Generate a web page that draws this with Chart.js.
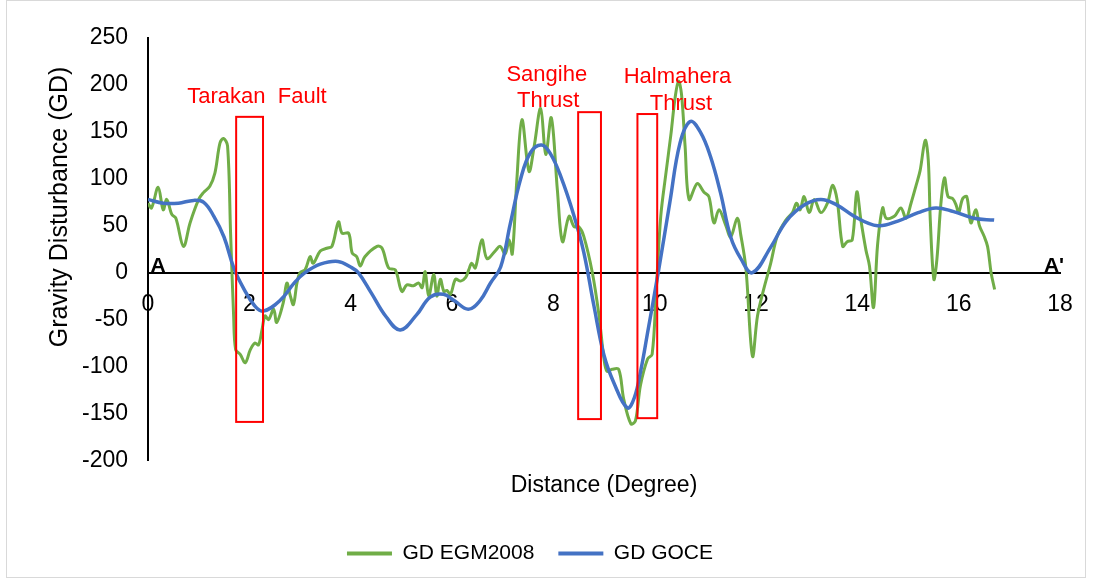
<!DOCTYPE html>
<html>
<head>
<meta charset="utf-8">
<title>Gravity Disturbance profile A-A'</title>
<script src="https://cdn.jsdelivr.net/npm/chart.js@4.4.0/dist/chart.umd.min.js"></script>
<style>
  html, body { margin: 0; padding: 0; background: #fff; }
</style>
</head>
<body>
<canvas id="gdChart" width="1094" height="584"></canvas>
<script>
// profile A - A', distance in degrees, GD values
const egmDist = [0.00, 0.07, 0.20, 0.30, 0.37, 0.47, 0.55, 0.70, 0.83, 1.00, 1.09, 1.22, 1.32, 1.42, 1.49, 1.57,
  1.63, 1.69, 1.73, 1.82, 1.92, 2.02, 2.11, 2.18, 2.25, 2.31, 2.38, 2.48, 2.54, 2.67, 2.74, 2.81, 2.87, 2.94,
  3.00, 3.10, 3.20, 3.26, 3.40, 3.53, 3.63, 3.76, 3.83, 3.96, 4.03, 4.12, 4.19, 4.28, 4.52, 4.62, 4.75, 4.88,
  5.01, 5.11, 5.24, 5.34, 5.41, 5.47, 5.54, 5.64, 5.70, 5.77, 5.84, 5.90, 5.97, 6.07, 6.17, 6.27, 6.33, 6.39,
  6.46, 6.59, 6.69, 6.85, 6.95, 7.05, 7.13, 7.19, 7.28, 7.38, 7.52, 7.62, 7.75, 7.85, 7.96, 8.08, 8.18, 8.31,
  8.41, 8.50, 8.60, 8.77, 8.90, 9.00, 9.06, 9.16, 9.29, 9.39, 9.53, 9.62, 9.72, 9.86, 9.95, 10.03, 10.12, 10.22,
  10.32, 10.40, 10.47, 10.53, 10.60, 10.68, 10.84, 10.97, 11.07, 11.17, 11.27, 11.40, 11.50, 11.63, 11.70, 11.80,
  11.93, 12.03, 12.15, 12.29, 12.42, 12.59, 12.72, 12.80, 12.87, 12.95, 13.05, 13.15, 13.28, 13.41, 13.51, 13.60,
  13.71, 13.80, 13.90, 13.99, 14.07, 14.17, 14.24, 14.32, 14.40, 14.50, 14.57, 14.73, 14.86, 14.96, 15.06, 15.16,
  15.24, 15.34, 15.40, 15.44, 15.51, 15.57, 15.65, 15.72, 15.79, 15.88, 15.95, 16.00, 16.08, 16.16, 16.24, 16.34,
  16.41, 16.50, 16.57, 16.64, 16.71];
const egmGD = [74, 69, 91, 67, 78, 62, 58, 28, 53, 78, 85, 92, 106, 138, 143, 135,
  42, -46, -82, -87, -96, -82, -75, -77, -61, -46, -50, -39, -53, -32, -11, -25, -34, -11,
  0, 3, 17, 10, 23, 26, 28, 54, 42, 42, 21, 17, 7, 17, 28, 26, 5, 3,
  -20, -13, -14, -11, -16, 1, -25, -2, -25, -7, -20, -19, -23, -7, -9, -5, 3, 10,
  5, 35, 15, 23, 28, 20, 35, 20, 99, 163, 108, 134, 175, 126, 165, 88, 33, 60,
  49, 49, 39, 0, -45, -92, -105, -103, -103, -135, -161, -158, -120, -92, -87, -20, 60, 105,
  147, 185, 204, 190, 135, 78, 95, 86, 81, 53, 67, 51, 38, 58, 40, 5,
  -89, -46, -18, 10, 39, 56, 64, 74, 67, 81, 64, 78, 64, 74, 93, 78,
  28, 33, 35, 86, 56, 24, 7, -37, 30, 69, 58, 60, 69, 58, 74, 93,
  109, 141, 120, 56, -7, 14, 74, 101, 81, 79, 72, 64, 79, 81, 53, 67,
  50, 39, 28, 0, -18];

const goceDist = [0, 0.3, 0.6, 0.9, 1.1, 1.3, 1.5, 1.7, 1.9, 2.1, 2.27, 2.6, 2.9, 3.1, 3.4, 3.75, 4.0, 4.15,
  4.4, 4.7, 4.98, 5.3, 5.57, 5.83, 6.05, 6.32, 6.55, 6.76, 6.96, 7.15, 7.35, 7.55, 7.77, 7.95, 8.15, 8.4,
  8.6, 8.8, 9.0, 9.2, 9.46, 9.6, 9.73, 9.86, 10.07, 10.3, 10.5, 10.7, 10.9, 11.1, 11.3, 11.5, 11.7, 11.93,
  12.3, 12.6, 12.95, 13.28, 13.6, 13.94, 14.4, 14.8, 15.2, 15.55, 15.9, 16.3, 16.7];
const goceGD = [78, 74, 74, 77, 75, 60, 38, 4, -18, -35, -41, -30, -10, 0, 9, 12, 6, 0,
  -21, -47, -61, -45, -26, -23, -30, -39, -30, -11, 6, 52, 99, 128, 136, 126, 102, 62,
  22, -35, -88, -118, -144, -133, -103, -64, 0, 75, 138, 161, 150, 124, 85, 38, 15, 0,
  28, 55, 72, 78, 72, 60, 50, 55, 64, 69, 65, 58, 56];

// fault zones: degree range and GD range of the red frames
const zoneNames = [['Tarakan  Fault'], ['Sangihe', 'Thrust'], ['Halmahera', 'Thrust']];
const zoneFrom = [1.74, 8.49, 9.66];
const zoneTo = [2.27, 8.94, 10.05];
const zoneTop = [166, 171, 169];
const zoneBottom = [-159, -156, -155];

const FONT = '"Liberation Sans", Arial, sans-serif';
// where the zone names sit, in data units (centre of each text line)
const zoneLabelAt = [
  [[2.15, 187]],
  [[7.87, 211], [7.9, 183]],
  [[10.45, 208], [10.52, 180]],
];

const frame = {
  id: 'frame',
  beforeDraw(chart) {
    const { ctx } = chart;
    ctx.save();
    ctx.fillStyle = '#fff';
    ctx.fillRect(0, 0, chart.width, chart.height);
    ctx.strokeStyle = '#d9d9d9';
    ctx.lineWidth = 1;
    ctx.strokeRect(6.5, 0.5, 1079, 577);
    ctx.restore();
  },
  afterDraw(chart) {
    // y axis title, Excel puts it a bit above the axis middle
    const { ctx } = chart;
    ctx.save();
    ctx.translate(60, 207);
    ctx.rotate(-Math.PI / 2);
    ctx.font = `25px ${FONT}`;
    ctx.fillStyle = '#000';
    ctx.textAlign = 'center';
    ctx.textBaseline = 'middle';
    ctx.fillText('Gravity Disturbance (GD)', 0, 0);
    ctx.restore();
  },
};

const faultZones = {
  id: 'faultZones',
  afterDatasetsDraw(chart) {
    const { ctx, scales: { x, y } } = chart;
    ctx.save();
    ctx.strokeStyle = '#ff0000';
    ctx.lineWidth = 2;
    zoneFrom.forEach((from, i) => {
      const l = x.getPixelForValue(from);
      const r = x.getPixelForValue(zoneTo[i]);
      const t = y.getPixelForValue(zoneTop[i]);
      const b = y.getPixelForValue(zoneBottom[i]);
      ctx.strokeRect(l, t, r - l, b - t);
    });
    ctx.fillStyle = '#ff0000';
    ctx.font = `22px ${FONT}`;
    ctx.textAlign = 'center';
    ctx.textBaseline = 'middle';
    zoneNames.forEach((lines, i) => {
      lines.forEach((txt, j) => {
        const [lx, ly] = zoneLabelAt[i][j];
        ctx.fillText(txt, x.getPixelForValue(lx), y.getPixelForValue(ly));
      });
    });
    // profile end marks
    ctx.fillStyle = '#000';
    ctx.font = `bold 21px ${FONT}`;
    ctx.textBaseline = 'alphabetic';
    ctx.textAlign = 'left';
    ctx.fillText('A', x.getPixelForValue(0.05), y.getPixelForValue(0) - 1);
    ctx.textAlign = 'right';
    ctx.fillText("A'", x.getPixelForValue(18.08), y.getPixelForValue(0) - 1);
    ctx.restore();
  },
};

const toPoints = (xs, ys) => xs.map((d, i) => ({ x: d, y: ys[i] }));

new Chart(document.getElementById('gdChart'), {
  type: 'line',
  data: {
    datasets: [
      {
        label: 'GD EGM2008',
        data: toPoints(egmDist, egmGD),
        borderColor: '#70ad47',
        backgroundColor: '#70ad47',
        borderWidth: 3,
        pointRadius: 0,
        tension: 0.35,
        order: 2,
      },
      {
        label: 'GD GOCE',
        data: toPoints(goceDist, goceGD),
        borderColor: '#4472c4',
        backgroundColor: '#4472c4',
        borderWidth: 3.5,
        pointRadius: 0,
        tension: 0.4,
        order: 1,
      },
    ],
  },
  options: {
    responsive: false,
    animation: false,
    layout: { padding: { left: 0, top: 38, right: 34, bottom: 10 } },
    scales: {
      x: {
        type: 'linear',
        min: 0,
        max: 18,
        position: { y: 0 },
        ticks: { stepSize: 2, color: '#000', font: { family: FONT, size: 23 }, padding: 18 },
        grid: { display: false, drawTicks: false },
        border: { color: '#000', width: 2 },
        afterFit(scale) { scale.height = 0; },
      },
      y: {
        min: -200,
        max: 250,
        ticks: { stepSize: 50, color: '#000', font: { family: FONT, size: 23 }, padding: 20 },
        grid: { display: false, drawTicks: false },
        border: { color: '#000', width: 2 },
        afterFit(scale) { scale.width = 148; },
      },
    },
    plugins: {
      title: {
        display: true,
        text: 'Distance (Degree)',
        position: 'bottom',
        fullSize: false,
        color: '#000',
        font: { family: FONT, size: 23, weight: 'normal' },
        padding: { top: 11, bottom: 20 },
      },
      legend: {
        position: 'bottom',
        weight: 3000,
        labels: {
          color: '#000',
          font: { family: FONT, size: 21 },
          boxWidth: 45,
          boxHeight: 4,
          padding: 24,
          sort: (a, b) => a.datasetIndex - b.datasetIndex,
          generateLabels(chart) {
            const items = Chart.defaults.plugins.legend.labels.generateLabels(chart);
            items.forEach(it => { it.lineWidth = 0; it.strokeStyle = 'rgba(0,0,0,0)'; });
            return items;
          },
        },
      },
      tooltip: { enabled: false },
    },
  },
  plugins: [frame, faultZones],
});
</script>
</body>
</html>
